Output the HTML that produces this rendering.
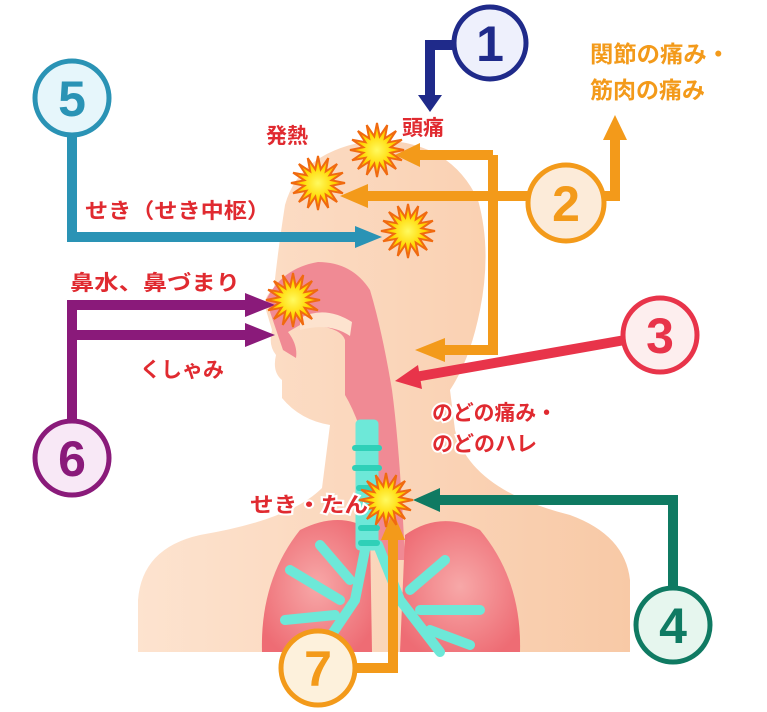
<!DOCTYPE html><html><head><meta charset="utf-8"><style>html,body{margin:0;padding:0;background:#fff}svg{display:block}text{font-family:"Liberation Sans","Noto Sans CJK JP",sans-serif;font-weight:bold}</style></head><body>
<svg width="767" height="712" viewBox="0 0 767 712" xmlns="http://www.w3.org/2000/svg">
<defs>
<radialGradient id="lg" cx="0.5" cy="0.5" r="0.6"><stop offset="0" stop-color="#f7a8a8"/><stop offset="1" stop-color="#ee6c74"/></radialGradient>
<linearGradient id="sk" x1="0" x2="1"><stop offset="0" stop-color="#fde3cf"/><stop offset="1" stop-color="#f8c9a6"/></linearGradient>
<radialGradient id="st"><stop offset="0" stop-color="#fffa60"/><stop offset="0.6" stop-color="#ffd800"/><stop offset="1" stop-color="#f59a00"/></radialGradient>
</defs>
<path d="M138 652 L138 600 Q142 548 200 535 Q290 520 322 488 L330 425 Q300 420 282 398 L282 380 Q272 372 276 355 Q268 345 272 330 L266 310 Q262 298 274 288 Q278 250 285 205 Q300 150 375 140 Q450 140 478 200 Q492 250 480 310 Q470 360 450 390 L455 430 Q470 490 570 515 Q625 535 630 580 L630 652 Z" fill="url(#sk)"/>
<path d="M266 300 Q282 268 318 262 Q352 262 370 290 Q382 330 392 390 Q400 450 405 560 L380 560 L372 470 Q360 420 345 395 L345 340 Q340 325 300 325 L288 332 Q298 345 296 358 L283 350 Z" fill="#f08a94"/>
<path d="M300 318 Q325 305 352 322 L350 336 Q330 322 300 330 Z" fill="#fde3cf"/>
<path d="M300 530 Q340 510 370 530 L372 652 L262 652 Q260 580 300 530 Z" fill="url(#lg)"/>
<path d="M480 530 Q440 510 405 535 L400 652 L520 652 Q522 580 480 530 Z" fill="url(#lg)"/>
<g fill="#6de8d8" stroke="#6de8d8">
<rect x="356" y="420" width="22" height="130" rx="4"/>
<path d="M366 545 L355 600 L320 652 M378 545 L400 600 L440 652 M340 600 L290 570 M335 615 L285 620 M350 580 L320 545 M410 590 L445 560 M420 610 L480 610 M430 630 L470 645" stroke-width="10" fill="none" stroke-linecap="round"/>
</g>
<g fill="#2fd0b8"><rect x="352" y="445" width="30" height="6" rx="3"/><rect x="352" y="465" width="30" height="6" rx="3"/><rect x="356" y="485" width="26" height="6" rx="3"/><rect x="358" y="525" width="22" height="6" rx="3"/><rect x="358" y="540" width="22" height="6" rx="3"/></g>
<g stroke-linejoin="miter" fill="none">
<path d="M455 45 H430 V95" stroke="#1f2a8a" stroke-width="10"/>
<path d="M72 130 V237 H360" stroke="#2a93b5" stroke-width="10"/>
<path d="M530 196 H360 M493 155 V350 H440 M493 155 H410 M603 196 H615 V135" stroke="#f39a1a" stroke-width="10"/>
<path d="M625 340 L415 377" stroke="#e8344a" stroke-width="10"/>
<path d="M72 420 V305 H250 M72 335 H250" stroke="#8a1a7a" stroke-width="10"/>
<path d="M673 590 V500 H435" stroke="#0f7a62" stroke-width="10"/>
<path d="M354 668 H393 V535" stroke="#f39a1a" stroke-width="10"/>
</g>
<g>
<polygon points="418,95 442,95 430,112" fill="#1f2a8a"/>
<polygon points="355,226 355,248 382,237" fill="#2a93b5"/>
<polygon points="368,184 368,208 340,196" fill="#f39a1a"/>
<polygon points="420,143 420,167 395,155" fill="#f39a1a"/>
<polygon points="445,338 445,362 415,350" fill="#f39a1a"/>
<polygon points="603,140 627,140 615,115" fill="#f39a1a"/>
<polygon points="418,365 422,389 395,381" fill="#e8344a"/>
<polygon points="245,293 245,317 275,305" fill="#8a1a7a"/>
<polygon points="245,323 245,347 275,335" fill="#8a1a7a"/>
<polygon points="440,488 440,512 413,500" fill="#0f7a62"/>
<polygon points="381,540 405,540 393,512" fill="#f39a1a"/>
</g>
<g fill="url(#st)" stroke="#f06a10" stroke-width="2">
<polygon id="s1" points=""/>
</g>
<script>
(function(){var c=[[377,150],[318,183],[408,231],[293,300],[386,500]];var g=document.getElementById('s1').parentNode;c.forEach(function(p){var pts=[];for(var i=0;i<32;i++){var r=i%2?14:27,a=i*Math.PI/16;pts.push((p[0]+r*Math.cos(a)).toFixed(1)+','+(p[1]+r*Math.sin(a)).toFixed(1));}var e=document.createElementNS('http://www.w3.org/2000/svg','polygon');e.setAttribute('points',pts.join(' '));g.appendChild(e);});})();
</script>
<g stroke-width="5">
<circle cx="490" cy="43" r="36" fill="#eef0fc" stroke="#1f2a8a"/>
<circle cx="72" cy="98" r="37" fill="#e6f6fb" stroke="#2a93b5"/>
<circle cx="566" cy="203" r="38" fill="#fcebd9" stroke="#f39a1a"/>
<circle cx="660" cy="335" r="37" fill="#fdeeee" stroke="#e8344a"/>
<circle cx="72" cy="458" r="37" fill="#f8e8f6" stroke="#8a1a7a"/>
<circle cx="673" cy="625" r="37" fill="#e6f6ee" stroke="#0f7a62"/>
<circle cx="318" cy="668" r="37" fill="#fdf1dc" stroke="#f39a1a"/>
</g>
<g font-size="50" text-anchor="middle">
<text x="490" y="61" fill="#1f2a8a">1</text>
<text x="72" y="116" fill="#2a93b5">5</text>
<text x="566" y="221" fill="#f39a1a">2</text>
<text x="660" y="353" fill="#e8344a">3</text>
<text x="72" y="476" fill="#8a1a7a">6</text>
<text x="673" y="643" fill="#0f7a62">4</text>
<text x="318" y="686" fill="#f39a1a">7</text>
</g>
<g font-size="21" fill="#e02a30" stroke="#fff" stroke-width="4" paint-order="stroke">
<text x="402" y="135">頭痛</text>
<text x="266" y="143">発熱</text>
<text x="85" y="218" textLength="185" lengthAdjust="spacingAndGlyphs">せき（せき中枢）</text>
<text x="70" y="290" textLength="170" lengthAdjust="spacingAndGlyphs">鼻水、鼻づまり</text>
<text x="140" y="377">くしゃみ</text>
<text x="432" y="420" textLength="125" lengthAdjust="spacingAndGlyphs">のどの痛み・</text>
<text x="432" y="451">のどのハレ</text>
<text x="250" y="512" textLength="118" lengthAdjust="spacingAndGlyphs">せき・たん</text>
</g>
<g font-size="23" fill="#f39a1a">
<text x="590" y="62" textLength="140" lengthAdjust="spacingAndGlyphs">関節の痛み・</text>
<text x="590" y="98">筋肉の痛み</text>
</g>
</svg>
</body></html>
